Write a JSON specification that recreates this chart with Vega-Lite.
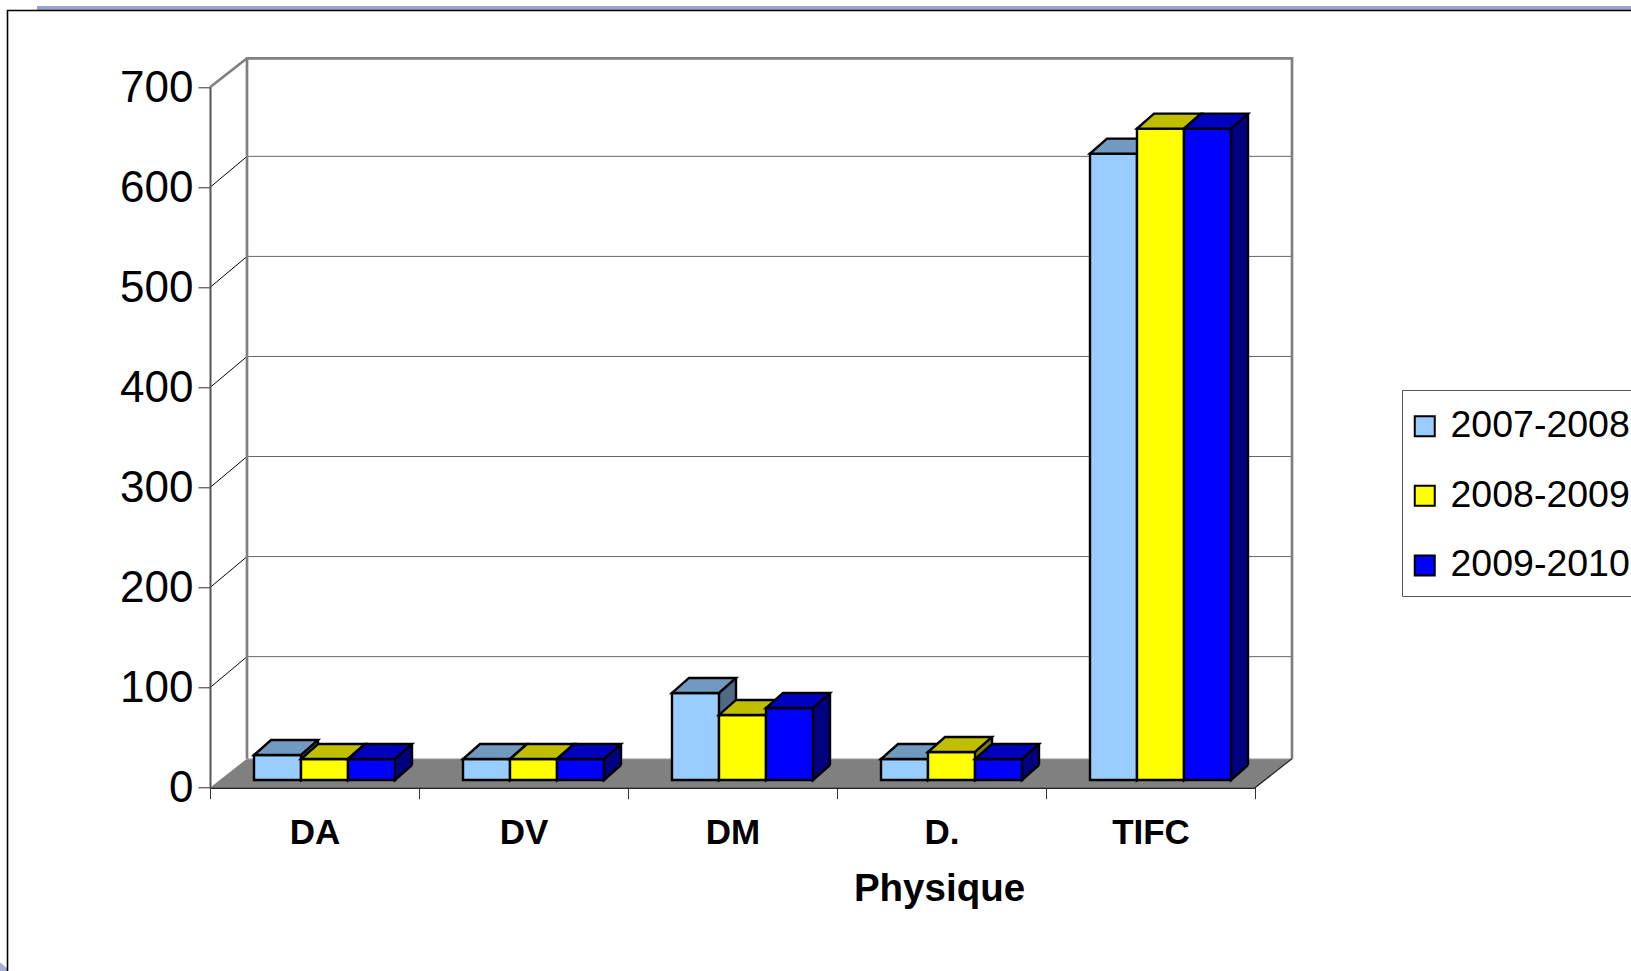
{
"$schema":"https://vega.github.io/schema/vega-lite/v6.json",
"width":1045,"height":700.4,
"autosize":{"type":"none"},
"padding":{"left":210,"top":87.3,"right":376,"bottom":183.3},
"background":"white",
"config":{"view":{"stroke":null},"font":"Liberation Sans"},
"datasets":{
"bars":[
{"dept":"DA","annee":"2007-2008","valeur":25},{"dept":"DA","annee":"2008-2009","valeur":21},{"dept":"DA","annee":"2009-2010","valeur":21},
{"dept":"DV","annee":"2007-2008","valeur":21},{"dept":"DV","annee":"2008-2009","valeur":21},{"dept":"DV","annee":"2009-2010","valeur":21},
{"dept":"DM","annee":"2007-2008","valeur":87},{"dept":"DM","annee":"2008-2009","valeur":65},{"dept":"DM","annee":"2009-2010","valeur":72},
{"dept":"D.","annee":"2007-2008","valeur":21},{"dept":"D.","annee":"2008-2009","valeur":28},{"dept":"D.","annee":"2009-2010","valeur":21},
{"dept":"TIFC","annee":"2007-2008","valeur":626},{"dept":"TIFC","annee":"2008-2009","valeur":651},{"dept":"TIFC","annee":"2009-2010","valeur":651}],
"grid":[{"tick":100},{"tick":200},{"tick":300},{"tick":400},{"tick":500},{"tick":600}],
"one":[{"item":"frame"}]
},
"data":{"name":"bars"},
"resolve":{"scale":{"x":"independent"},"axis":{"x":"independent","y":"independent"}},
"layer":[
{"layer":[
{"data":{"name":"one"},"mark":{"type":"point","shape":"M-173 -81.3L1421 -81.3L1421 -77.3L-173 -77.3Z","size":4,"filled":true,"fill":"#9aa3c9","stroke":null,"opacity":1},
 "encoding":{"x":{"datum":"DA","type":"nominal","bandPosition":0,"axis":null,"scale":{"type":"band","domain":["DA","DV","DM","D.","TIFC"],"paddingInner":0,"paddingOuter":0}},"y":{"datum":700,"type":"quantitative","axis":null,"scale":{"domain":[0,700],"nice":false}}}},
{"data":{"name":"one"},"mark":{"type":"point","shape":"M-210 875L-203 881L-203 884L-210 884Z","size":4,"filled":true,"fill":"#a9aed3","stroke":null,"opacity":1},
 "encoding":{"x":{"datum":"DA","type":"nominal","bandPosition":0,"axis":null},"y":{"datum":700,"type":"quantitative","axis":null}}},
{"data":{"name":"one"},"mark":{"type":"point","shape":"M-202.5 884L-202.5 -76.8L1421 -76.8","size":4,"filled":false,"stroke":"black","strokeWidth":1.6,"opacity":1},
 "encoding":{"x":{"datum":"DA","type":"nominal","bandPosition":0,"axis":null},"y":{"datum":700,"type":"quantitative","axis":null}}},
{"data":{"name":"one"},"mark":{"type":"point","shape":"M0 0L1045 0L1082 -29L37 -29Z","size":4,"filled":true,"fill":"#808080","stroke":null,"opacity":1},
 "encoding":{"x":{"datum":"DA","type":"nominal","bandPosition":0,"axis":null},"y":{"datum":0,"type":"quantitative","axis":null}}},
{"data":{"name":"one"},"mark":{"type":"point","shape":"M37 -29L1082 -29","size":4,"filled":false,"stroke":"#c4c4c4","strokeWidth":1,"opacity":1},
 "encoding":{"x":{"datum":"DA","type":"nominal","bandPosition":0,"axis":null},"y":{"datum":0,"type":"quantitative","axis":null}}},
{"data":{"name":"grid"},"mark":{"type":"point","shape":"M0 0L37 -31","size":4,"filled":false,"stroke":"black","strokeWidth":1,"opacity":1},
 "encoding":{"x":{"datum":"DA","type":"nominal","bandPosition":0,"axis":null},"y":{"field":"tick","type":"quantitative","axis":null}}},
{"data":{"name":"grid"},"mark":{"type":"point","shape":"M37 -31L1082 -31","size":4,"filled":false,"stroke":"#666","strokeWidth":1,"opacity":1},
 "encoding":{"x":{"datum":"DA","type":"nominal","bandPosition":0,"axis":null},"y":{"field":"tick","type":"quantitative","axis":null}}},
{"data":{"name":"one"},"mark":{"type":"point","shape":"M37 -29L37 -729.4L1082 -729.4L1082 -29M0 -700.4L37 -729.4","size":4,"filled":false,"stroke":"#808080","strokeWidth":2.7,"opacity":1,"strokeJoin":"miter"},
 "encoding":{"x":{"datum":"DA","type":"nominal","bandPosition":0,"axis":null},"y":{"datum":0,"type":"quantitative","axis":null}}},
{"data":{"name":"one"},"mark":{"type":"point","shape":"M0 0L37 -29","size":4,"filled":false,"stroke":"#222","strokeWidth":1.2,"opacity":1},
 "encoding":{"x":{"datum":"TIFC","type":"nominal","bandPosition":1,"axis":null},"y":{"datum":0,"type":"quantitative","axis":null}}}
]},
{"mark":{"type":"point","opacity":0},
 "encoding":{
 "x":{"field":"dept","type":"nominal","title":"Physique","scale":{"type":"band","domain":["DA","DV","DM","D.","TIFC"],"paddingInner":0,"paddingOuter":0},
 "axis":{"labelAngle":0,"labelFont":"Liberation Sans","labelFontWeight":"bold","labelFontSize":35,"labelColor":"black","labelPadding":17,
 "tickBand":"extent","tickSize":11,"tickColor":"#333","tickWidth":1,"domainColor":"#222","domainWidth":1.5,"grid":false,
 "titleFont":"Liberation Sans","titleFontSize":38.5,"titleFontWeight":"bold","titleColor":"black","titlePadding":20,"titleX":729,"titleAlign":"center","zindex":1}},
 "y":{"field":"valeur","type":"quantitative","title":null,
 "axis":{"values":[0,100,200,300,400,500,600,700],"labelFont":"Liberation Sans","labelFontSize":44,"labelColor":"black","labelPadding":5,"labelOffset":1,
 "tickSize":12,"tickColor":"#333","tickWidth":1,"domainColor":"#555","domainWidth":2,"grid":false,"zindex":1}}}},
{"transform":[{"filter":"datum.annee === '2007-2008'"}],
 "layer":[
 {"mark":{"type":"bar","width":17,"xOffset":32,"yOffset":-22.7,"y2Offset":-22.7,"color":"#4f6a86","stroke":null},
  "encoding":{"x":{"field":"dept","type":"nominal","axis":null,"scale":{"domain":["DA","DV","DM","D.","TIFC"],"range":[-37,1008],"paddingInner":0.7751,"paddingOuter":0.38756}},"y":{"field":"valeur","type":"quantitative","axis":null,"stack":null},"y2":{"datum":0}}},
 {"mark":{"type":"point","shape":"M23.5 -15L23.5 0L40.5 -15","size":4,"filled":true,"fill":"#4f6a86","stroke":"black","strokeWidth":2.4,"opacity":1,"yOffset":-7.7},"encoding":{"x":{"field":"dept","type":"nominal","axis":null},"y":{"datum":0,"type":"quantitative","axis":null}}},
 {"mark":{"type":"rule","xOffset":40.5,"yOffset":-22.7,"y2Offset":-22.7,"color":"black","strokeWidth":2.4},"encoding":{"x":{"field":"dept","type":"nominal","axis":null},"y":{"field":"valeur","type":"quantitative","axis":null},"y2":{"datum":0}}},
 {"mark":{"type":"bar","yOffset":-7.7,"y2Offset":-7.7,"stroke":"black","strokeWidth":2.4},
  "encoding":{"x":{"field":"dept","type":"nominal","axis":null},"y":{"field":"valeur","type":"quantitative","axis":null,"stack":null},"y2":{"datum":0},
  "color":{"field":"annee","type":"nominal","scale":{"domain":["2007-2008","2008-2009","2009-2010"],"range":["#99ccff","#ffff00","#0000ff"]},
  "legend":{"orient":"none","legendX":1192,"legendY":302.7,"title":" ","titleFontSize":1,"titlePadding":4.5,"padding":12,"fillColor":"white","strokeColor":"#555","symbolType":"square","symbolSize":400,"symbolStrokeColor":"black","symbolStrokeWidth":2,"symbolOpacity":1,"symbolOffset":-8,"labelFont":"Liberation Sans","labelFontSize":37.5,"labelColor":"black","labelOffset":7,"rowPadding":30.6,"labelLimit":400}}}},
 {"mark":{"type":"point","shape":"M-23.5 0L23.5 0L40.5 -15L-6.5 -15Z","size":4,"filled":true,"fill":"#7299bf","stroke":"black","strokeWidth":2.4,"opacity":1,"yOffset":-7.7},"encoding":{"x":{"field":"dept","type":"nominal","axis":null},"y":{"field":"valeur","type":"quantitative","axis":null}}}
 ]},
{"transform":[{"filter":"datum.annee === '2008-2009'"}],
 "layer":[
 {"mark":{"type":"bar","width":17,"xOffset":32,"yOffset":-22.7,"y2Offset":-22.7,"color":"#808000","stroke":null},
  "encoding":{"x":{"field":"dept","type":"nominal","axis":null,"scale":{"domain":["DA","DV","DM","D.","TIFC"],"range":[10,1055],"paddingInner":0.7751,"paddingOuter":0.38756}},"y":{"field":"valeur","type":"quantitative","axis":null,"stack":null},"y2":{"datum":0}}},
 {"mark":{"type":"point","shape":"M23.5 -15L23.5 0L40.5 -15","size":4,"filled":true,"fill":"#808000","stroke":"black","strokeWidth":2.4,"opacity":1,"yOffset":-7.7},"encoding":{"x":{"field":"dept","type":"nominal","axis":null},"y":{"datum":0,"type":"quantitative","axis":null}}},
 {"mark":{"type":"rule","xOffset":40.5,"yOffset":-22.7,"y2Offset":-22.7,"color":"black","strokeWidth":2.4},"encoding":{"x":{"field":"dept","type":"nominal","axis":null},"y":{"field":"valeur","type":"quantitative","axis":null},"y2":{"datum":0}}},
 {"mark":{"type":"bar","yOffset":-7.7,"y2Offset":-7.7,"stroke":"black","strokeWidth":2.4},
  "encoding":{"x":{"field":"dept","type":"nominal","axis":null},"y":{"field":"valeur","type":"quantitative","axis":null,"stack":null},"y2":{"datum":0},"color":{"field":"annee","type":"nominal"}}},
 {"mark":{"type":"point","shape":"M-23.5 0L23.5 0L40.5 -15L-6.5 -15Z","size":4,"filled":true,"fill":"#bfbf00","stroke":"black","strokeWidth":2.4,"opacity":1,"yOffset":-7.7},"encoding":{"x":{"field":"dept","type":"nominal","axis":null},"y":{"field":"valeur","type":"quantitative","axis":null}}}
 ]},
{"transform":[{"filter":"datum.annee === '2009-2010'"}],
 "layer":[
 {"mark":{"type":"bar","width":17,"xOffset":32,"yOffset":-22.7,"y2Offset":-22.7,"color":"#000080","stroke":null},
  "encoding":{"x":{"field":"dept","type":"nominal","axis":null,"scale":{"domain":["DA","DV","DM","D.","TIFC"],"range":[57,1102],"paddingInner":0.7751,"paddingOuter":0.38756}},"y":{"field":"valeur","type":"quantitative","axis":null,"stack":null},"y2":{"datum":0}}},
 {"mark":{"type":"point","shape":"M23.5 -15L23.5 0L40.5 -15","size":4,"filled":true,"fill":"#000080","stroke":"black","strokeWidth":2.4,"opacity":1,"yOffset":-7.7},"encoding":{"x":{"field":"dept","type":"nominal","axis":null},"y":{"datum":0,"type":"quantitative","axis":null}}},
 {"mark":{"type":"rule","xOffset":40.5,"yOffset":-22.7,"y2Offset":-22.7,"color":"black","strokeWidth":2.4},"encoding":{"x":{"field":"dept","type":"nominal","axis":null},"y":{"field":"valeur","type":"quantitative","axis":null},"y2":{"datum":0}}},
 {"mark":{"type":"bar","yOffset":-7.7,"y2Offset":-7.7,"stroke":"black","strokeWidth":2.4},
  "encoding":{"x":{"field":"dept","type":"nominal","axis":null},"y":{"field":"valeur","type":"quantitative","axis":null,"stack":null},"y2":{"datum":0},"color":{"field":"annee","type":"nominal"}}},
 {"mark":{"type":"point","shape":"M-23.5 0L23.5 0L40.5 -15L-6.5 -15Z","size":4,"filled":true,"fill":"#0000bf","stroke":"black","strokeWidth":2.4,"opacity":1,"yOffset":-7.7},"encoding":{"x":{"field":"dept","type":"nominal","axis":null},"y":{"field":"valeur","type":"quantitative","axis":null}}}
 ]}
]
}
